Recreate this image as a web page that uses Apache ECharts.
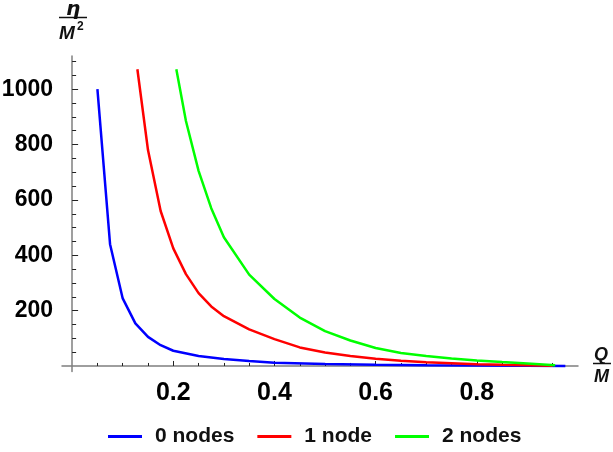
<!DOCTYPE html>
<html>
<head>
<meta charset="utf-8">
<script src="https://cdn.jsdelivr.net/npm/echarts@6/dist/echarts.min.js"></script>
<style>html,body{margin:0;padding:0;background:#fff}#c{width:613px;height:452px}</style>
</head>
<body>
<div id="c"></div>
<script>
// ---- data ----
var seriesNames = ['0 nodes', '1 node', '2 nodes'];
var q0 = [0.05, 0.075, 0.1, 0.125, 0.15, 0.175, 0.2, 0.25, 0.3, 0.35, 0.4, 0.5, 0.6, 0.7, 0.8, 0.9, 0.975];
var eta0 = [1000, 440, 244, 154, 105, 75, 55, 36, 25, 18, 12, 7, 4, 2.5, 1.5, 0.8, 0.3];
var q1 = [0.129, 0.15, 0.175, 0.2, 0.225, 0.25, 0.275, 0.3, 0.35, 0.4, 0.45, 0.5, 0.55, 0.6, 0.65, 0.7, 0.75, 0.8, 0.85, 0.9, 0.95];
var eta1 = [1072, 780, 560, 425, 332, 263, 215, 180, 132, 97, 67, 49, 36, 26, 18.5, 13.5, 10, 6.5, 4, 2.5, 1];
var q2 = [0.206, 0.225, 0.25, 0.275, 0.3, 0.35, 0.4, 0.45, 0.5, 0.55, 0.6, 0.65, 0.7, 0.75, 0.8, 0.85, 0.9, 0.955];
var eta2 = [1072, 885, 705, 570, 465, 330, 242, 175, 126, 92, 65, 47, 36, 27, 20, 14, 9, 3];
var xMajor = [0.2, 0.4, 0.6, 0.8];
var xMinor = [0.05, 0.1, 0.15, 0.25, 0.3, 0.35, 0.45, 0.5, 0.55, 0.65, 0.7, 0.75, 0.85, 0.9, 0.95];
var yMajor = [200, 400, 600, 800, 1000];
var yMinor = [50, 100, 150, 250, 300, 350, 450, 500, 550, 650, 700, 750, 850, 900, 950, 1050, 1100];
var colors = ['#0000ff', '#ff0000', '#00ff00'];

function pairs(xs, ys) { return xs.map(function (x, i) { return [x, ys[i]]; }); }

var chart = echarts.init(document.getElementById('c'), null, { renderer: 'canvas' });
var gridRect = { left: 62, right: 35, top: 56, bottom: 80.5, containLabel: false, outerBoundsMode: 'none' };
var XMIN = -0.02, XMAX = 1.0, YMIN = -20, YMAX = 1120;
var xLabelFont = { fontFamily: 'Liberation Sans', fontWeight: 'bold', fontSize: 25, color: '#000' };
var yLabelFont = { fontFamily: 'Liberation Sans', fontWeight: 'bold', fontSize: 23, color: '#000' };

var option = {
  animation: false,
  backgroundColor: '#fff',
  color: colors,
  grid: [
    Object.assign({}, gridRect),
    Object.assign({}, gridRect)
  ],
  xAxis: [
    {
      type: 'value', gridIndex: 0, min: XMIN, max: XMAX,
      axisLine: { show: true, onZero: true, lineStyle: { color: '#7f7f7f', width: 1.5 } },
      axisTick: { show: true, inside: true, length: 5, customValues: xMajor, lineStyle: { color: '#222', width: 1 } },
      axisLabel: Object.assign({ show: true, margin: 9, customValues: xMajor, formatter: function (v) { return v.toFixed(1); } }, xLabelFont),
      splitLine: { show: false }
    },
    {
      type: 'value', gridIndex: 1, min: XMIN, max: XMAX,
      axisLine: { show: false, onZero: true },
      axisTick: { show: true, inside: true, length: 3, customValues: xMinor, lineStyle: { color: '#222', width: 1 } },
      axisLabel: { show: false },
      splitLine: { show: false }
    }
  ],
  yAxis: [
    {
      type: 'value', gridIndex: 0, min: YMIN, max: YMAX,
      axisLine: { show: true, onZero: true, lineStyle: { color: '#7f7f7f', width: 1.5 } },
      axisTick: { show: true, inside: true, length: 6, customValues: yMajor, lineStyle: { color: '#222', width: 1 } },
      axisLabel: Object.assign({ show: true, margin: 9, customValues: yMajor, formatter: function (v) { return String(v); } }, yLabelFont),
      splitLine: { show: false }
    },
    {
      type: 'value', gridIndex: 1, min: YMIN, max: YMAX,
      axisLine: { show: false, onZero: true },
      axisTick: { show: true, inside: true, length: 4, customValues: yMinor, lineStyle: { color: '#222', width: 1 } },
      axisLabel: { show: false },
      splitLine: { show: false }
    }
  ],
  legend: {
    show: true,
    left: 103, top: 421,
    icon: 'rect', itemWidth: 34, itemHeight: 3, itemGap: 23,
    textStyle: { fontFamily: 'Liberation Sans', fontWeight: 'bold', fontSize: 21, color: '#111', padding: [0, 0, 0, 8] },
    data: seriesNames
  },
  series: [
    { name: seriesNames[0], type: 'line', xAxisIndex: 0, yAxisIndex: 0, showSymbol: false, symbol: 'none', clip: true, lineStyle: { width: 2.5, color: colors[0] }, data: pairs(q0, eta0) },
    { name: seriesNames[1], type: 'line', xAxisIndex: 0, yAxisIndex: 0, showSymbol: false, symbol: 'none', clip: true, lineStyle: { width: 2.5, color: colors[1] }, data: pairs(q1, eta1) },
    { name: seriesNames[2], type: 'line', xAxisIndex: 0, yAxisIndex: 0, showSymbol: false, symbol: 'none', clip: true, lineStyle: { width: 2.5, color: colors[2] }, data: pairs(q2, eta2) }
  ],
  graphic: [
    { type: 'text', left: 66, top: 0, style: { text: 'η', font: 'italic bold 20px "DejaVu Sans", sans-serif', fill: '#111' } },
    { type: 'line', shape: { x1: 59, y1: 17.5, x2: 87, y2: 17.5 }, style: { stroke: '#111', lineWidth: 1.5 } },
    { type: 'text', left: 59, top: 24, style: { text: 'M', font: 'italic bold 19px "Liberation Sans", Arial, sans-serif', fill: '#111' } },
    { type: 'text', left: 77, top: 21, style: { text: '2', font: 'bold 12px "Liberation Sans", Arial, sans-serif', fill: '#111' } },
    { type: 'text', left: 594, top: 346, style: { text: 'Q', font: 'italic bold 18px "Liberation Sans", Arial, sans-serif', fill: '#111' } },
    { type: 'line', shape: { x1: 593, y1: 363.5, x2: 611, y2: 363.5 }, style: { stroke: '#111', lineWidth: 1.5 } },
    { type: 'text', left: 594, top: 368, style: { text: 'M', font: 'italic bold 18px "Liberation Sans", Arial, sans-serif', fill: '#111' } }
  ]
};
chart.setOption(option);
</script>
</body>
</html>
